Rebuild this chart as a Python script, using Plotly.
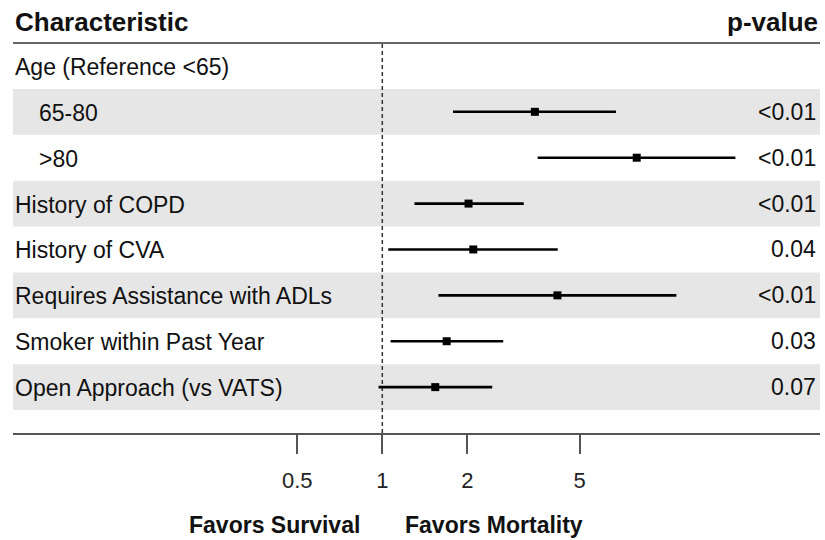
import plotly.graph_objects as go

# ---------------- data ----------------
characteristics = ["Age (Reference <65)", "65-80", ">80", "History of COPD", "History of CVA",
                   "Requires Assistance with ADLs", "Smoker within Past Year", "Open Approach (vs VATS)"]
is_subgroup = [False, True, True, False, False, False, False, False]
odds_ratio = [None, 3.47, 7.96, 2.02, 2.10, 4.17, 1.69, 1.54]
ci_lower = [None, 1.78, 3.55, 1.30, 1.05, 1.58, 1.07, 0.97]
ci_upper = [None, 6.72, 17.8, 3.17, 4.18, 11.0, 2.68, 2.45]
p_values = ["", "<0.01", "<0.01", "<0.01", "0.04", "<0.01", "0.03", "0.07"]
tick_values = [0.5, 1, 2, 5]
tick_labels = ["0.5", "1", "2", "5"]
reference_value = 1
header_left = "Characteristic"
header_right = "p-value"
favors_left = "Favors Survival"
favors_right = "Favors Mortality"

# ---------------- figure ----------------
FONT = "Liberation Sans, Arial, Helvetica, sans-serif"
W, H = 825, 540
ML, MR, MT, MB = 13, 5, 43, 107
PW = W - ML - MR
PH = H - MT - MB

n = len(characteristics)
rows = [-i for i in range(n)]
err_plus = [None if o is None else hi - o for o, hi in zip(odds_ratio, ci_upper)]
err_minus = [None if o is None else o - lo for o, lo in zip(odds_ratio, ci_lower)]

fig = go.Figure()

# reference line
fig.add_trace(go.Scatter(
    x=[reference_value, reference_value], y=[-n, 0.5], mode="lines",
    line=dict(color="#333333", width=1.5, dash="4px,3px"),
    hoverinfo="skip", showlegend=False))

fig.add_trace(go.Scatter(
    x=odds_ratio, y=rows, mode="markers",
    marker=dict(symbol="square", size=8, color="black"),
    error_x=dict(type="data", symmetric=False, array=err_plus, arrayminus=err_minus,
                 color="black", thickness=2.6, width=0),
    showlegend=False))

shapes = []
for i, r in enumerate(rows):
    if i % 2 == 1:
        shapes.append(dict(type="rect", xref="paper", x0=0, x1=1, yref="y",
                           y0=r - 0.5, y1=r + 0.5, fillcolor="#e6e6e6",
                           line=dict(width=0), layer="below"))
shapes.append(dict(type="line", xref="paper", x0=0, x1=1, yref="paper", y0=1, y1=1,
                   line=dict(color="#666666", width=2)))

annotations = []
for lab, sub, r, p in zip(characteristics, is_subgroup, rows, p_values):
    annotations.append(dict(text=lab, xref="paper", x=(24 / PW) if sub else 0, y=r, yref="y",
                            yshift=-1, xanchor="left", yanchor="middle", showarrow=False,
                            font=dict(family=FONT, size=23, color="#111111")))
    if p:
        annotations.append(dict(text=p, xref="paper", x=1 - 2 / PW, y=r, yref="y",
                                xanchor="right", yanchor="middle", showarrow=False,
                                font=dict(family=FONT, size=23, color="#111111")))

def py(pix):
    return (MT + PH - pix) / PH

def px(pix):
    return (pix - ML) / PW

annotations.append(dict(text="<b>%s</b>" % header_left, xref="paper", yref="paper",
                        x=0, y=py(22), xanchor="left", yanchor="middle", showarrow=False,
                        font=dict(family=FONT, size=26, color="#111111")))
annotations.append(dict(text="<b>%s</b>" % header_right, xref="paper", yref="paper",
                        x=1, y=py(22), xanchor="right", yanchor="middle", showarrow=False,
                        font=dict(family=FONT, size=26, color="#111111")))
annotations.append(dict(text="<b>%s</b>" % favors_left, xref="paper", yref="paper",
                        x=px(274), y=py(525), xanchor="center", yanchor="middle", showarrow=False,
                        font=dict(family=FONT, size=23, color="#111111")))
annotations.append(dict(text="<b>%s</b>" % favors_right, xref="paper", yref="paper",
                        x=px(494), y=py(525), xanchor="center", yanchor="middle", showarrow=False,
                        font=dict(family=FONT, size=23, color="#111111")))

x_left = (ML - 382.3) / 282.4
x_right = (W - MR - 382.3) / 282.4

fig.update_layout(
    width=W, height=H,
    margin=dict(l=ML, r=MR, t=MT, b=MB, pad=0),
    paper_bgcolor="white", plot_bgcolor="white",
    shapes=shapes, annotations=annotations,
    xaxis=dict(type="log", range=[x_left, x_right], tickvals=tick_values, ticktext=tick_labels,
               showgrid=False, zeroline=False, showline=True, linecolor="#555555", linewidth=1.5,
               ticks="outside", ticklen=19, tickwidth=1.5, tickcolor="#555555",
               ticklabelstandoff=8,
               tickfont=dict(family=FONT, size=22, color="#222222")),
    yaxis=dict(range=[-n, 0.5], showgrid=False, zeroline=False, showticklabels=False,
               showline=False, ticks=""),
    showlegend=False,
)

fig.write_html(
    "out.html",
    config={"displayModeBar": False},
    post_script="document.body.style.margin='0';document.body.style.overflow='hidden';",
)
